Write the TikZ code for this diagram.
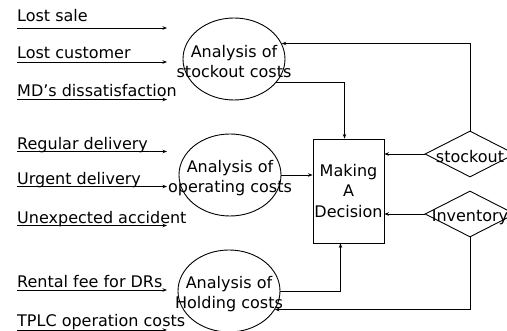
\documentclass[tikz,border=0pt]{standalone}
\usepackage{fontspec}
\setmainfont{DejaVu Sans}
\usetikzlibrary{arrows.meta, positioning, shapes.geometric}

\tikzset{
  flow/.style={line width=0.9pt, -{Stealth[length=4.5pt,width=3.5pt]}},
  factor/.style={anchor=base west, inner sep=0pt, font=\fontsize{16}{20}\selectfont},
  costnode/.style={draw, ellipse, line width=0.9pt, minimum width=102pt, minimum height=82pt, inner sep=0pt},
  costtext/.style={align=center, inner sep=0pt, yshift=-3pt, font=\fontsize{16}{20}\selectfont},
  decbox/.style={draw, line width=0.9pt, minimum width=71pt, minimum height=104pt, inner sep=0pt,
    align=center, font=\fontsize{16}{20.5}\selectfont},
  state/.style={draw, diamond, line width=0.9pt, minimum width=90pt, minimum height=46pt, inner sep=0pt}
}

\begin{document}
\begin{tikzpicture}[x=1pt, y=-1pt]
  \useasboundingbox (0,0) rectangle (507,331);

  % where the factor arrows stop
  \coordinate (tip) at (167,0);

  % cost analyses
  \node[costnode, label={[costtext]center:Analysis of\\stockout costs}] (stock) at (234,59) {};
  \node[costnode, label={[costtext]center:Analysis of\\operating costs}] (oper) at (230,175) {};
  \node[costnode, label={[costtext]center:Analysis of\\Holding costs}] (hold) at (229,291) {};

  % decision box and states
  \node[decbox] (dec) at (348.5,191) {Making\\A\\Decision};
  \node[state, label={[costtext]center:stockout}] (stout) at (470,154) {};
  \node[state, label={[costtext]center:Inventory}] (inv) at (470,214) {};

  % stockout factors
  \node[factor] (sale) at (17,21.5) {Lost sale};
  \draw[flow] ([yshift=-6.5pt]sale.base west) -- ([yshift=-6.5pt]sale.base west -| tip);
  \node[factor] (cust) at (17,59) {Lost customer};
  \draw[flow] ([yshift=-3pt]cust.base west) -- ([yshift=-3pt]cust.base west -| tip);
  \node[factor] (md) at (17,96.5) {MD’s dissatisfaction};
  \draw[flow] ([yshift=-3pt]md.base west) -- ([yshift=-3pt]md.base west -| tip);

  % operating factors
  \node[factor] (reg) at (17,150) {Regular delivery};
  \draw[flow] ([yshift=-1.5pt]reg.base west) -- ([yshift=-1.5pt]reg.base west -| tip);
  \node[factor] (urg) at (17,185) {Urgent delivery};
  \draw[flow] ([yshift=-1.5pt]urg.base west) -- ([yshift=-1.5pt]urg.base west -| tip);
  \node[factor] (acc) at (17,224) {Unexpected accident};
  \draw[flow] ([yshift=-1.5pt]acc.base west) -- ([yshift=-1.5pt]acc.base west -| tip);

  % holding factors
  \node[factor] (rent) at (17,288) {Rental fee for DRs};
  \draw[flow] ([yshift=-2pt]rent.base west) -- ([yshift=-2pt]rent.base west -| tip);
  \node[factor] (tplc) at (17,327) {TPLC operation costs};
  \draw[flow] ([yshift=-3pt]tplc.base west) -- ([yshift=-3pt]tplc.base west -| tip);

  % analyses into the decision
  \draw[flow] (stock.-29) -| ([xshift=-4pt]dec.north);
  \draw[flow] (oper.east) -- (oper.east -| dec.west);
  \draw[flow] (hold.east) -| ([xshift=-8pt]dec.south);

  % states back to the box and the analyses
  \draw[flow] (stout.west) -- (stout.west -| dec.east);
  \draw[flow] (inv.west) -- (inv.west -| dec.east);
  \draw[flow] (stout.north) |- (stock.18);
  \draw[flow] (inv.south) |- (hold.-22);
\end{tikzpicture}
\end{document}
